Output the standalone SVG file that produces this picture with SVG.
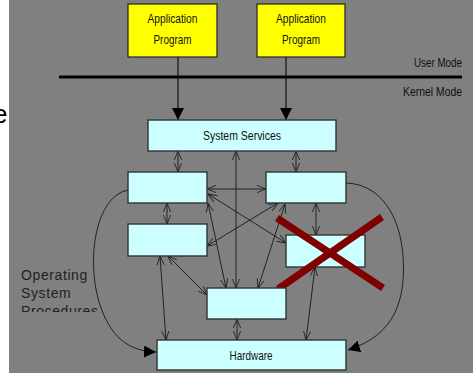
<svg xmlns="http://www.w3.org/2000/svg" width="473" height="375" viewBox="0 0 473 375">
  <style>
    .app { fill: #ffff00; stroke: #222; stroke-width: 1.2; }
    .box { fill: #ccffff; stroke: #333; stroke-width: 1.4; }
    .lbl { font-family: "Liberation Sans", Arial, sans-serif; font-size: 13px; fill: #111; }
    .thin { fill: none; stroke: #222; stroke-width: 1; marker-start: url(#open); marker-end: url(#open); }
    .curve { fill: none; stroke: #222; stroke-width: 1; marker-end: url(#solid); }
    .call { fill: none; stroke: #111; stroke-width: 1.2; marker-end: url(#solid); }
    .os { font-family: "Liberation Sans", Arial, sans-serif; font-size: 14px; fill: #222; letter-spacing: 0.6px; }
  </style>
  <defs>
    <marker id="open" viewBox="0 0 10 10" refX="10" refY="5" markerWidth="9" markerHeight="9" markerUnits="userSpaceOnUse" orient="auto-start-reverse">
      <path d="M0,1 L10,5 L0,9" fill="none" stroke="#222" stroke-width="1"/>
    </marker>
    <marker id="solid" viewBox="0 0 10 10" refX="10" refY="5" markerWidth="12" markerHeight="12" markerUnits="userSpaceOnUse" orient="auto">
      <path d="M0,0 L10,5 L0,10 z" fill="#000"/>
    </marker>
    <clipPath id="osClip"><rect x="9" y="250" width="140" height="62"/></clipPath>
  </defs>

  <!-- page background and slide panel -->
  <rect x="0" y="0" width="473" height="375" fill="#ffffff"/>
  <text x="-7" y="123" font-family="Liberation Sans, Arial, sans-serif" font-size="26" fill="#000">e</text>
  <rect x="9" y="0" width="464" height="373" fill="#808080"/>

  <!-- user / kernel boundary -->
  <line x1="59" y1="77" x2="462" y2="77" stroke="#000" stroke-width="3"/>
  <text class="lbl" x="462" y="67" text-anchor="end" textLength="48" lengthAdjust="spacingAndGlyphs">User Mode</text>
  <text class="lbl" x="462" y="96" text-anchor="end" textLength="59" lengthAdjust="spacingAndGlyphs">Kernel Mode</text>

  <g id="connectors">
    <!-- application calls into system services -->
    <line class="call" x1="178" y1="57" x2="178" y2="120"/>
    <line class="call" x1="286" y1="57" x2="286" y2="120"/>
    <!-- two-way links between modules -->
    <line class="thin" x1="178" y1="151" x2="178" y2="172"/>
    <line class="thin" x1="296" y1="151" x2="296" y2="172"/>
    <line class="thin" x1="167" y1="203" x2="167" y2="224"/>
    <line class="thin" x1="316" y1="203" x2="316" y2="235"/>
    <line class="thin" x1="237" y1="319" x2="237" y2="340"/>
    <line class="thin" x1="207" y1="189" x2="266" y2="189"/>
    <line class="thin" x1="236" y1="151" x2="236" y2="288"/>
    <line class="thin" x1="208" y1="203" x2="226" y2="288"/>
    <line class="thin" x1="285" y1="204" x2="258" y2="288"/>
    <line class="thin" x1="208" y1="194" x2="286" y2="243"/>
    <line class="thin" x1="207" y1="246" x2="278" y2="203"/>
    <line class="thin" x1="160" y1="256" x2="166" y2="340"/>
    <line class="thin" x1="168" y1="256" x2="207" y2="295"/>
    <line class="thin" x1="315" y1="267" x2="306" y2="340"/>
    <!-- procedure paths down to hardware -->
    <path class="curve" d="M128,190 C96,196 86,258 99,302 C110,337 128,351 156,352"/>
    <path class="curve" d="M346,183 C380,184 400,215 403,256 C406,300 395,335 348,350"/>
  </g>

  <g id="app1">
    <rect class="app" x="128" y="4" width="89" height="53"/>
    <text class="lbl" x="172.5" y="23" text-anchor="middle" textLength="50" lengthAdjust="spacingAndGlyphs">Application</text>
    <text class="lbl" x="172.5" y="44" text-anchor="middle" textLength="38" lengthAdjust="spacingAndGlyphs">Program</text>
  </g>
  <g id="app2">
    <rect class="app" x="257" y="4" width="88" height="53"/>
    <text class="lbl" x="301" y="23" text-anchor="middle" textLength="50" lengthAdjust="spacingAndGlyphs">Application</text>
    <text class="lbl" x="301" y="44" text-anchor="middle" textLength="38" lengthAdjust="spacingAndGlyphs">Program</text>
  </g>
  <g id="system-services">
    <rect class="box" x="148" y="120" width="188" height="31"/>
    <text class="lbl" x="242" y="140" text-anchor="middle" textLength="78" lengthAdjust="spacingAndGlyphs">System Services</text>
  </g>
  <g id="module-l1"><rect class="box" x="128" y="172" width="79" height="31"/></g>
  <g id="module-l2"><rect class="box" x="128" y="224" width="79" height="32"/></g>
  <g id="module-r1"><rect class="box" x="266" y="172" width="80" height="31"/></g>
  <g id="module-r2">
    <rect class="box" x="286" y="235" width="79" height="32"/>
    <line x1="277" y1="218" x2="383" y2="288" stroke="#800000" stroke-width="7"/>
    <line x1="382" y1="217" x2="278" y2="289" stroke="#800000" stroke-width="7"/>
  </g>
  <g id="module-c"><rect class="box" x="207" y="288" width="79" height="31"/></g>
  <g id="hardware">
    <rect class="box" x="157" y="340" width="189" height="30"/>
    <text class="lbl" x="251" y="359.5" text-anchor="middle" textLength="43" lengthAdjust="spacingAndGlyphs">Hardware</text>
  </g>

  <g id="os-procedures" clip-path="url(#osClip)">
    <text class="os" x="21" y="280">Operating</text>
    <text class="os" x="21" y="298">System</text>
    <text class="os" x="21" y="316">Procedures</text>
  </g>
</svg>
